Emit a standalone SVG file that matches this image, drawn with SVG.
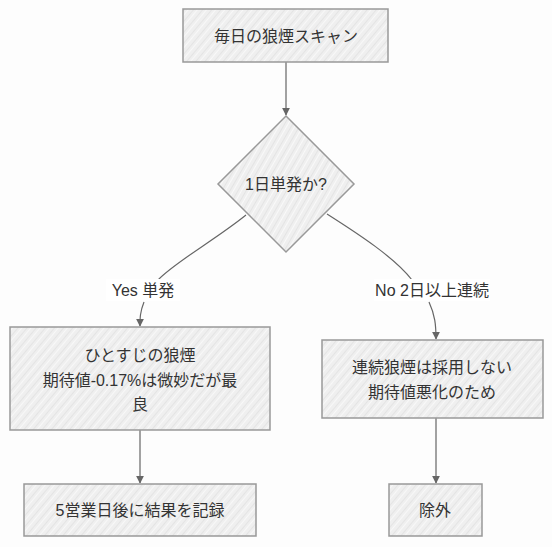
<svg xmlns="http://www.w3.org/2000/svg" width="552" height="547" viewBox="0 0 552 547">
<defs>
<pattern id="hatch" width="7" height="7" patternUnits="userSpaceOnUse" patternTransform="rotate(40)">
<rect width="7" height="7" fill="#efefef"/>
<line x1="0" y1="0" x2="0" y2="7" stroke="#d9d9d9" stroke-width="1"/>
<line x1="3.5" y1="0" x2="3.5" y2="7" stroke="#fafafa" stroke-width="0.8"/>
</pattern>
<pattern id="hatch2" width="7" height="7" patternUnits="userSpaceOnUse" patternTransform="rotate(30)">
<rect width="7" height="7" fill="#efefef"/>
<line x1="0" y1="0" x2="0" y2="7" stroke="#dadada" stroke-width="1"/>
<line x1="3.5" y1="0" x2="3.5" y2="7" stroke="#fbfbfb" stroke-width="0.8"/>
</pattern>
<marker id="arr" viewBox="0 0 10 10" refX="9" refY="5" markerWidth="8" markerHeight="8" orient="auto" markerUnits="userSpaceOnUse">
<path d="M0,0 L10,5 L0,10 z" fill="#666"/>
</marker>
</defs>
<style>
.node rect, .node polygon { fill: url(#hatch); stroke: #999; stroke-width: 1.5; }
.node polygon { fill: url(#hatch2); }
text { font-family: "Liberation Sans", "Noto Sans CJK JP", sans-serif; font-size: 16px; fill: #333; text-anchor: middle; }
.edge { fill: none; stroke: #666; stroke-width: 1.2; }
.lbl rect { fill: #ffffff; }
</style>
<rect width="552" height="547" fill="#fdfdfd"/>
<g id="connectors">
<path class="edge" d="M286,62 L286,115" marker-end="url(#arr)"/>
<path class="edge" d="M246,215 C215,240 175,262 158,280"/>
<path class="edge" d="M144,302 C140,312 140,318 140,326" marker-end="url(#arr)"/>
<path class="edge" d="M327,214 C360,235 395,258 412,280"/>
<path class="edge" d="M429,302 C435,315 436,325 436,339" marker-end="url(#arr)"/>
<path class="edge" d="M140,430 L140,483" marker-end="url(#arr)"/>
<path class="edge" d="M436,418 L436,483" marker-end="url(#arr)"/>
<g class="lbl">
<rect x="106" y="279" width="74" height="22"/>
<text x="143" y="296">Yes 単発</text>
<rect x="374" y="279" width="116" height="22"/>
<text x="432" y="296">No 2日以上連続</text>
</g>
</g>
<g id="scan" class="node">
<rect x="183" y="9" width="205" height="53"/>
<text x="286" y="42">毎日の狼煙スキャン</text>
</g>
<g id="decision" class="node">
<polygon points="286,116 354,184 286,252 218,184"/>
<text x="286" y="190">1日単発か?</text>
</g>
<g id="single" class="node">
<rect x="10" y="327" width="260" height="103"/>
<text x="140" y="361">ひとすじの狼煙</text>
<text x="140" y="386">期待値-0.17%は微妙だが最</text>
<text x="140" y="410">良</text>
</g>
<g id="multi" class="node">
<rect x="322" y="340" width="221" height="78"/>
<text x="432" y="373">連続狼煙は採用しない</text>
<text x="432" y="398">期待値悪化のため</text>
</g>
<g id="record" class="node">
<rect x="24" y="484" width="232" height="52"/>
<text x="140" y="516">5営業日後に結果を記録</text>
</g>
<g id="exclude" class="node">
<rect x="389" y="484" width="93" height="52"/>
<text x="435" y="516">除外</text>
</g>
</svg>
